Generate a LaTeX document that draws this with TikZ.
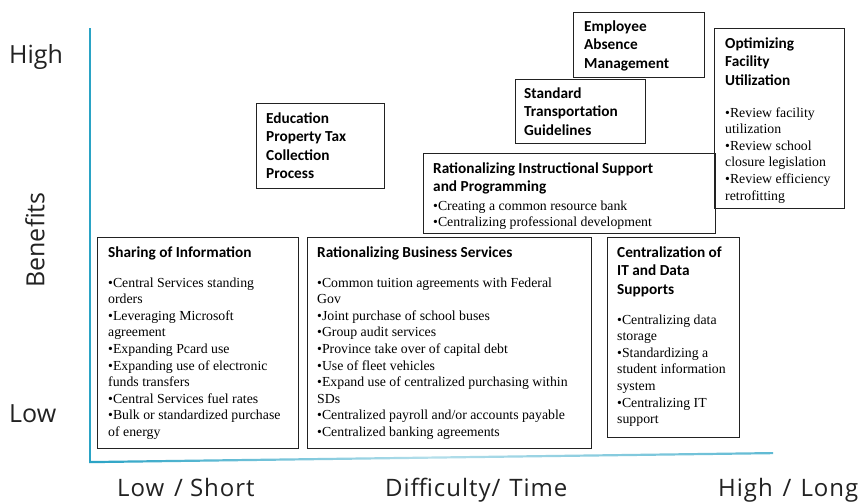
\documentclass[tikz,border=0pt]{standalone}
\usepackage{fontspec}
\setmainfont{Liberation Serif}
\newfontfamily\ttlfont{Carlito}
\newfontfamily\axfont{Open Sans}
\newfontfamily\axbfont[LetterSpace=4]{Open Sans}
\definecolor{axc}{HTML}{2AA3C5}
\definecolor{boxc}{HTML}{222222}
\definecolor{labc}{HTML}{222222}
\newcommand{\lns}[1]{\begin{tabular}[t]{@{}l@{}}#1\end{tabular}}
\begin{document}
\begin{tikzpicture}[x=1pt,y=-1pt,
  box/.style={draw=boxc, line width=1.1pt, rectangle, inner sep=0pt, anchor=north west},
  ttl/.style={anchor=base west, inner sep=0pt, text=black,
    font=\ttlfont\bfseries\fontsize{15.3}{18.5}\selectfont},
  bod/.style={anchor=base west, inner sep=0pt, text=black,
    font=\fontsize{13.8}{16.6}\selectfont},
  axl/.style={inner sep=0pt, text=labc, font=\axfont\fontsize{25}{30}\selectfont},
  axb/.style={inner sep=0pt, text=labc, anchor=base west, font=\axbfont\fontsize{24}{29}\selectfont}]
\useasboundingbox (0,0) rectangle (862,501);
\fill[white] (0,0) rectangle (862,501);

% axes
\coordinate (ytop) at (90,28);
\coordinate (orig) at (90,462);
\coordinate (xend) at (773,453);
\shade[left color=axc, right color=axc!75, middle color=axc!35]
  (89,461) -- (773,452) -- (773,454.2) -- (89,463.2) -- cycle;
\draw[axc, line width=2pt] (ytop) -- (orig);

% axis labels
\node[axl, anchor=base west] (yhigh) at (9,63) {High};
\node[axl, anchor=base west] (ylow) at (9,422) {Low};
\node[axl, rotate=90] (yben) at (35,240) {Benefits};
\node[axb] (xlow) at (117,496) {Low\hspace{10pt}/\hspace{7pt}Short};
\node[axb] (xmid) at (385,496) {Difficulty/\hspace{9pt}Time};
\node[axb] (xhigh) at (718,496) {High\hspace{10pt}/\hspace{9pt}Long};

% boxes
\node[box, minimum width=201pt, minimum height=211pt] (b1) at (97,237) {};
\node[box, minimum width=284pt, minimum height=211pt] (b2) at (307,237) {};
\node[box, minimum width=132pt, minimum height=200pt] (b3) at (607,237) {};
\node[box, minimum width=292pt, minimum height=80pt] (b4) at (423,153) {};
\node[box, minimum width=128pt, minimum height=85pt] (b5) at (256,103) {};
\node[box, minimum width=130pt, minimum height=64pt] (b6) at (515,79) {};
\node[box, minimum width=131pt, minimum height=65pt] (b7) at (573,12) {};
\node[box, minimum width=130pt, minimum height=180pt] (b8) at (714,28) {};

% box texts
\node[ttl] (t1) at (108,257) {\lns{Sharing of Information}};
\node[bod] (d1) at (108,287) {\lns{\textbullet Central Services standing\\orders\\\textbullet Leveraging Microsoft\\agreement\\\textbullet Expanding Pcard use\\\textbullet Expanding use of electronic\\funds transfers\\\textbullet Central Services fuel rates\\\textbullet Bulk or standardized purchase\\of energy}};

\node[ttl] (t2) at (317,257) {\lns{Rationalizing Business Services}};
\node[bod] (d2) at (317,287) {\lns{\textbullet Common tuition agreements with Federal\\Gov\\\textbullet Joint purchase of school buses\\\textbullet Group audit services\\\textbullet Province take over of capital debt\\\textbullet Use of fleet vehicles\\\textbullet Expand use of centralized purchasing within\\SDs\\\textbullet Centralized payroll and/or accounts payable\\\textbullet Centralized banking agreements}};

\node[ttl] (t3) at (617,257) {\lns{Centralization of\\IT and Data\\Supports}};
\node[bod] (d3) at (617,324) {\lns{\textbullet Centralizing data\\storage\\\textbullet Standardizing a\\student information\\system\\\textbullet Centralizing IT\\support}};

\node[ttl] (t4) at (433,173) {\lns{Rationalizing Instructional Support\\and Programming}};
\node[bod] (d4) at (433,210) {\lns{\textbullet Creating a common resource bank\\\textbullet Centralizing professional development}};

\node[ttl] (t5) at (266,123) {\lns{Education\\Property Tax\\Collection\\Process}};
\node[ttl] (t6) at (524,98) {\lns{Standard\\Transportation\\Guidelines}};
\node[ttl] (t7) at (584,31) {\lns{Employee\\Absence\\Management}};

\node[ttl] (t8) at (725,48) {\lns{Optimizing\\Facility\\Utilization}};
\node[bod] (d8) at (725,117) {\lns{\textbullet Review facility\\utilization\\\textbullet Review school\\closure legislation\\\textbullet Review efficiency\\retrofitting}};
\end{tikzpicture}
\end{document}
